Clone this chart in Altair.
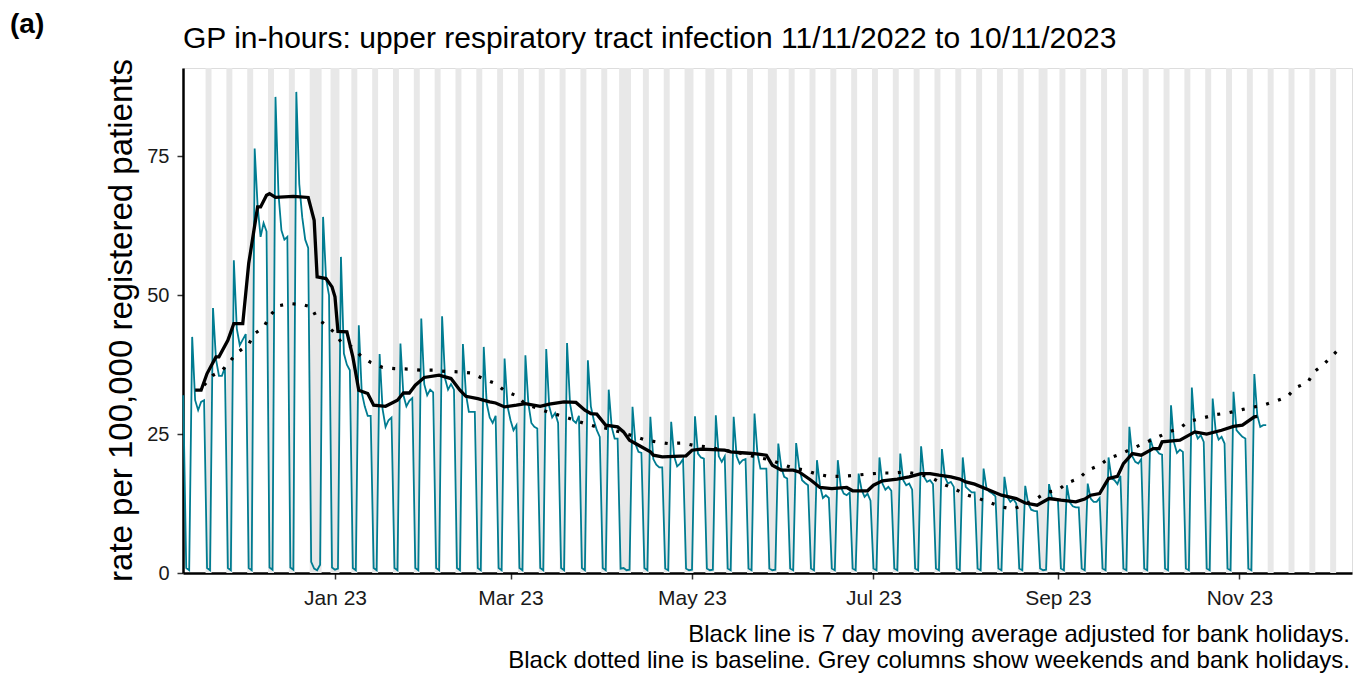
import altair as alt
import pandas as pd

# ---------------- data ----------------
start_date = "2022-11-11"
# daily rate per 100,000 (Fri 11 Nov 2022 ... Fri 10 Nov 2023)
daily_rate = [
    32.0, 0.9, 0.5,                              # Fri 11 Nov, Sat, Sun
    42.5, 31.1, 29.3, 30.8, 31.1, 0.9, 0.5,      # w/c 14 Nov
    47.7, 38.5, 35.5, 35.5, 37.0, 0.9, 0.5,      # 21 Nov
    56.3, 44.0, 41.0, 42.0, 43.0, 0.9, 0.5,      # 28 Nov
    76.4, 66.0, 60.5, 63.0, 61.5, 1.0, 0.6,      # 5 Dec
    85.7, 68.3, 61.7, 60.0, 60.5, 1.0, 0.6,      # 12 Dec
    86.6, 70.0, 64.0, 60.0, 58.5, 2.0, 0.8,      # 19 Dec
    0.5, 1.5, 64.1, 53.0, 50.0, 1.0, 0.6,        # 26 Dec (bank hols)
    0.8, 56.9, 39.5, 37.5, 36.5, 0.9, 0.5,       # 2 Jan (bank hol)
    44.6, 32.5, 30.0, 28.3, 28.3, 0.9, 0.5,      # 9 Jan
    39.4, 29.5, 26.3, 27.5, 28.0, 0.9, 0.5,      # 16 Jan
    41.3, 32.0, 30.0, 31.0, 31.5, 0.9, 0.5,      # 23 Jan
    45.8, 34.0, 32.0, 33.0, 32.5, 0.9, 0.5,      # 30 Jan
    46.2, 35.0, 33.0, 34.0, 33.0, 0.9, 0.5,      # 6 Feb
    41.2, 32.3, 29.0, 29.0, 29.0, 0.9, 0.5,      # 13 Feb
    40.7, 30.5, 28.0, 27.0, 28.3, 0.9, 0.5,      # 20 Feb
    38.6, 30.0, 27.5, 25.7, 26.6, 0.9, 0.5,      # 27 Feb
    39.2, 30.5, 27.0, 26.3, 26.0, 0.9, 0.5,      # 6 Mar
    40.3, 30.0, 28.0, 28.8, 27.0, 0.9, 0.5,      # 13 Mar
    41.4, 30.5, 27.5, 27.0, 28.3, 0.9, 0.5,      # 20 Mar
    38.3, 30.0, 27.5, 25.7, 24.5, 0.9, 0.5,      # 27 Mar
    33.0, 26.3, 24.2, 24.2, 0.8, 0.9, 0.5,       # 3 Apr (Good Friday)
    0.6, 29.9, 23.2, 21.8, 21.6, 0.9, 0.5,       # 10 Apr (Easter Monday)
    28.1, 20.5, 19.5, 19.0, 19.0, 0.8, 0.5,      # 17 Apr
    27.2, 21.0, 19.2, 19.7, 20.5, 0.8, 0.5,      # 24 Apr
    0.6, 28.2, 21.5, 20.8, 20.6, 0.8, 0.5,       # 1 May
    0.6, 28.4, 21.0, 20.0, 21.0, 0.8, 0.5,       # 8 May
    28.1, 21.0, 19.7, 20.3, 20.5, 0.8, 0.5,      # 15 May
    28.7, 21.5, 18.8, 18.8, 18.8, 0.8, 0.5,      # 22 May
    0.6, 23.3, 19.0, 17.3, 17.0, 0.8, 0.5,       # 29 May
    23.4, 19.1, 16.7, 16.2, 15.8, 0.8, 0.5,      # 5 Jun
    20.3, 15.8, 13.5, 14.0, 13.5, 0.8, 0.5,      # 12 Jun
    20.3, 15.5, 14.3, 14.0, 14.5, 0.8, 0.5,      # 19 Jun
    17.9, 15.0, 13.7, 14.3, 13.0, 0.8, 0.5,      # 26 Jun
    20.8, 16.1, 15.0, 15.5, 14.8, 0.8, 0.5,      # 3 Jul
    21.5, 16.7, 15.8, 16.1, 15.0, 0.8, 0.5,      # 10 Jul
    22.8, 17.3, 16.4, 16.7, 16.0, 0.8, 0.5,      # 17 Jul
    22.3, 17.3, 16.1, 16.4, 15.5, 0.8, 0.5,      # 24 Jul
    20.8, 15.5, 15.0, 14.5, 14.5, 0.8, 0.5,      # 31 Jul
    18.8, 15.2, 14.6, 14.3, 13.8, 0.8, 0.5,      # 7 Aug
    17.3, 13.7, 12.8, 13.3, 12.5, 0.8, 0.5,      # 14 Aug
    15.7, 12.5, 11.4, 11.2, 11.1, 0.8, 0.5,      # 21 Aug
    0.6, 16.0, 13.4, 13.4, 13.0, 0.8, 0.5,       # 28 Aug (bank hol)
    15.8, 12.7, 12.0, 11.8, 11.8, 0.8, 0.5,      # 4 Sep
    16.1, 13.4, 12.8, 12.8, 13.5, 0.8, 0.5,      # 11 Sep
    20.8, 17.0, 16.7, 16.0, 17.5, 0.8, 0.5,      # 18 Sep
    26.3, 21.0, 20.0, 19.7, 20.5, 0.8, 0.5,      # 25 Sep
    24.2, 22.4, 22.2, 21.5, 21.3, 0.8, 0.5,      # 2 Oct
    30.2, 23.5, 21.6, 22.2, 21.8, 0.8, 0.5,      # 9 Oct
    33.4, 25.7, 24.2, 24.8, 23.6, 0.8, 0.5,      # 16 Oct
    31.4, 25.7, 24.0, 24.5, 23.3, 0.8, 0.5,      # 23 Oct
    32.6, 25.7, 25.1, 24.5, 24.2, 0.8, 0.5,      # 30 Oct
    35.8, 28.4, 26.3, 26.6, 26.6,                # 6 Nov
]

ma_dates = [
    "2022-11-15", "2022-11-17", "2022-11-19", "2022-11-22", "2022-11-23", "2022-11-26",
    "2022-11-28", "2022-12-01", "2022-12-03", "2022-12-06", "2022-12-07", "2022-12-09",
    "2022-12-10", "2022-12-12", "2022-12-18", "2022-12-23", "2022-12-25", "2022-12-26",
    "2022-12-29", "2022-12-31", "2023-01-01", "2023-01-02", "2023-01-05", "2023-01-07",
    "2023-01-09", "2023-01-12", "2023-01-14", "2023-01-18", "2023-01-22", "2023-01-24",
    "2023-01-26", "2023-01-28", "2023-01-31", "2023-02-05", "2023-02-09", "2023-02-12",
    "2023-02-14", "2023-02-18", "2023-02-22", "2023-02-24", "2023-02-27", "2023-03-03",
    "2023-03-06", "2023-03-11", "2023-03-14", "2023-03-19", "2023-03-23", "2023-03-26",
    "2023-03-28", "2023-03-30", "2023-04-02", "2023-04-06", "2023-04-08", "2023-04-10",
    "2023-04-12", "2023-04-17", "2023-04-18", "2023-04-21", "2023-04-29", "2023-05-01",
    "2023-05-04", "2023-05-12", "2023-05-14", "2023-05-19", "2023-05-22", "2023-05-26",
    "2023-05-28", "2023-05-31", "2023-06-04", "2023-06-06", "2023-06-10", "2023-06-13",
    "2023-06-17", "2023-06-22", "2023-06-24", "2023-06-29", "2023-07-01", "2023-07-04",
    "2023-07-09", "2023-07-13", "2023-07-17", "2023-07-20", "2023-07-23", "2023-07-27",
    "2023-07-30", "2023-08-01", "2023-08-04", "2023-08-09", "2023-08-13", "2023-08-18",
    "2023-08-21", "2023-08-25", "2023-08-29", "2023-09-02", "2023-09-07", "2023-09-10",
    "2023-09-12", "2023-09-15", "2023-09-18", "2023-09-21", "2023-09-23", "2023-09-26",
    "2023-09-29", "2023-10-03", "2023-10-05", "2023-10-06", "2023-10-12", "2023-10-17",
    "2023-10-21", "2023-10-26", "2023-10-30", "2023-11-02", "2023-11-06", "2023-11-07",
]
ma_values = [
    32.9, 32.9, 35.9, 38.9, 38.9, 41.9,
    44.9, 44.9, 55.7, 65.9, 65.9, 68.0,
    68.3, 67.6, 67.8, 67.6, 63.5, 53.3,
    53.0, 51.5, 49.7, 43.5, 43.4, 38.9,
    32.9, 32.3, 30.2, 30.0, 31.1, 32.4,
    32.4, 33.8, 35.2, 35.6, 35.0, 32.9,
    31.8, 31.4, 30.8, 30.6, 29.9, 30.2,
    30.5, 30.0, 30.4, 30.8, 30.7, 29.3,
    28.7, 28.6, 26.6, 26.3, 25.4, 23.9,
    23.3, 21.8, 21.2, 20.9, 21.1, 22.1,
    22.3, 22.1, 21.8, 21.6, 21.5, 21.2,
    19.4, 18.5, 18.5, 18.2, 16.7, 15.4,
    15.2, 15.4, 14.8, 14.8, 15.8, 16.6,
    16.9, 17.3, 17.9, 17.9, 17.6, 17.3,
    16.9, 16.4, 16.0, 14.9, 14.0, 13.4,
    12.6, 12.2, 13.4, 13.1, 12.8, 13.3,
    14.0, 14.3, 17.0, 17.4, 19.7, 21.5,
    21.2, 22.4, 22.4, 23.6, 23.9, 25.4,
    25.0, 25.7, 26.4, 26.6, 28.1, 28.2,
]

base_dates = [
    "2022-11-18", "2022-11-21", "2022-11-24", "2022-11-27", "2022-11-29", "2022-12-03",
    "2022-12-05", "2022-12-08", "2022-12-10", "2022-12-13", "2022-12-17", "2022-12-21",
    "2022-12-24", "2022-12-26", "2022-12-29", "2023-01-01", "2023-01-03", "2023-01-07",
    "2023-01-10", "2023-01-13", "2023-01-17", "2023-01-21", "2023-01-26", "2023-01-30",
    "2023-02-03", "2023-02-07", "2023-02-12", "2023-02-16", "2023-02-20", "2023-02-24",
    "2023-02-27", "2023-03-03", "2023-03-06", "2023-03-14", "2023-03-18", "2023-03-22",
    "2023-03-26", "2023-03-30", "2023-04-03", "2023-04-11", "2023-04-15", "2023-04-19",
    "2023-04-23", "2023-04-28", "2023-05-02", "2023-05-06", "2023-05-18", "2023-05-23",
    "2023-05-27", "2023-05-31", "2023-06-04", "2023-06-08", "2023-06-12", "2023-06-16",
    "2023-06-21", "2023-06-25", "2023-06-29", "2023-07-04", "2023-07-08", "2023-07-12",
    "2023-07-20", "2023-07-24", "2023-07-28", "2023-08-01", "2023-08-05", "2023-08-09",
    "2023-08-13", "2023-08-17", "2023-08-24", "2023-08-28", "2023-09-01", "2023-09-04",
    "2023-09-08", "2023-09-11", "2023-09-15", "2023-09-18", "2023-09-22", "2023-09-26",
    "2023-10-08", "2023-10-12", "2023-10-15", "2023-10-19", "2023-10-24", "2023-10-28",
    "2023-11-01", "2023-11-05", "2023-11-09", "2023-11-13", "2023-11-17", "2023-11-20",
    "2023-11-24", "2023-11-26", "2023-11-29", "2023-12-02", "2023-12-05",
]
base_values = [
    33.8, 35.6, 36.4, 38.3, 39.6, 41.2,
    43.1, 44.2, 46.2, 48.1, 48.5, 48.3,
    47.9, 45.8, 44.6, 43.2, 41.6, 40.6,
    38.9, 37.9, 37.0, 36.8, 36.7, 36.5,
    36.5, 36.3, 36.2, 36.0, 34.9, 34.1,
    32.8, 31.9, 30.4, 28.9, 28.3, 27.6,
    26.9, 26.3, 26.0, 24.7, 24.0, 23.6,
    23.3, 23.4, 22.9, 22.7, 21.5, 20.8,
    20.4, 19.6, 18.9, 18.5, 17.8, 17.4,
    17.4, 17.6, 17.8, 18.0, 18.0, 18.2,
    17.3, 16.1, 15.2, 14.1, 13.5, 12.7,
    11.9, 11.5, 13.1, 14.5, 14.9, 16.2,
    17.0, 18.5, 19.4, 20.6, 21.4, 22.4,
    25.3, 26.1, 27.3, 27.8, 28.5, 28.8,
    29.3, 29.8, 30.2, 30.9, 31.7, 33.4,
    34.3, 36.2, 37.4, 39.0, 40.6,
]

bank_holidays = ["2022-12-26", "2022-12-27", "2023-01-02", "2023-04-07", "2023-04-10",
                 "2023-05-01", "2023-05-08", "2023-05-29", "2023-08-28"]
shade_first, shade_last = "2022-11-19", "2023-12-03"

title_text = "GP in-hours: upper respiratory tract infection 11/11/2022 to 10/11/2023"
panel_label = "(a)"
y_title = "rate per 100,000 registered patients"
caption_lines = ["Black line is 7 day moving average adjusted for bank holidays.",
                 "Black dotted line is baseline. Grey columns show weekends and bank holidays."]
x_tick_dates = [(2023, 1), (2023, 3), (2023, 5), (2023, 7), (2023, 9), (2023, 11)]
y_ticks = [0, 25, 50, 75]

# ---------------- tables ----------------
daily_df = pd.DataFrame({
    "date": pd.date_range(start_date, periods=len(daily_rate), freq="D").strftime("%Y-%m-%d"),
    "value": daily_rate,
})
ma_df = pd.DataFrame({"date": ma_dates, "value": ma_values})
base_df = pd.DataFrame({"date": base_dates, "value": base_values})

days = pd.date_range(shade_first, shade_last, freq="D")
shaded = sorted(set(days[days.dayofweek >= 5]) | set(pd.to_datetime(bank_holidays)))
runs = []
for d in shaded:
    if runs and (d - runs[-1][1]).days == 1:
        runs[-1][1] = d
    else:
        runs.append([d, d])
half = pd.Timedelta(hours=12)
shade_df = pd.DataFrame({
    "start": [(a - half).strftime("%Y-%m-%dT%H:%M:%SZ") for a, b in runs],
    "end": [(b + half).strftime("%Y-%m-%dT%H:%M:%SZ") for a, b in runs],
})

W, H = 1169, 505
FONT = "Liberation Sans"

xscale = alt.Scale(type="utc", domain=[
    alt.DateTime(year=2022, month=11, date=10, hours=22, utc=True),
    alt.DateTime(year=2023, month=12, date=8, hours=20, utc=True)])
yscale = alt.Scale(domain=[0, 90.9], nice=False, zero=True)

xaxis = alt.Axis(
    values=[alt.DateTime(year=y, month=m, date=1, utc=True) for y, m in x_tick_dates],
    labelExpr="utcFormat(datum.value, '%b %y')", grid=False,
    domainColor="black", domainWidth=2.5, tickColor="#333333", tickWidth=1.5, tickSize=6,
    labelFont=FONT, labelFontSize=21, labelColor="#1a1a1a", labelPadding=8, title=None)
yaxis = alt.Axis(
    values=y_ticks, grid=False,
    domainColor="black", domainWidth=2.5, tickColor="#333333", tickWidth=1.5, tickSize=6,
    labelFont=FONT, labelFontSize=20, labelColor="#1a1a1a", labelPadding=8, title=None)

X = alt.X("date:T", scale=xscale, axis=xaxis, title=None)
Y = alt.Y("value:Q", scale=yscale, axis=yaxis, title=None)

shade = alt.Chart(shade_df).mark_rect(color="#E8E8E8").encode(
    x=alt.X("start:T", scale=xscale, axis=xaxis, title=None),
    x2="end:T",
    y=alt.value(0), y2=alt.value(H),
)
teal = alt.Chart(daily_df).mark_line(color="#007C91", strokeWidth=1.8).encode(x=X, y=Y)
base = alt.Chart(base_df).mark_line(color="black", strokeWidth=3.2, strokeDash=[3, 9.5],
                                    strokeCap="butt").encode(x=X, y=Y)
ma = alt.Chart(ma_df).mark_line(color="black", strokeWidth=3.3).encode(x=X, y=Y)

def label(text, x, y, size, align="left", bold=False, angle=0):
    kw = dict(font=FONT, fontSize=size, align=align, baseline="alphabetic",
              color="black", fontWeight="bold" if bold else "normal")
    if angle:
        kw["angle"] = angle
    return alt.Chart(pd.DataFrame({"t": [text]})).mark_text(**kw).encode(
        text="t:N", x=alt.value(x), y=alt.value(y))

texts = [
    label(panel_label, -173, -35, 28, bold=True),
    label(title_text, 0, -20, 30),
    label(y_title, -51, H / 2, 33, align="center", angle=270),
    label(caption_lines[0], W - 2, 574, 24, align="right"),
    label(caption_lines[1], W - 2, 600, 24, align="right"),
]

chart = alt.layer(shade, teal, base, ma, *texts).properties(
    width=W, height=H,
    padding={"left": 175, "top": 60, "right": 2, "bottom": 100},
    autosize=alt.AutoSizeParams(type="none"),
).configure_view(stroke=None).configure(background="white")

chart.save("out.html", embed_options={"renderer": "svg", "actions": False})
